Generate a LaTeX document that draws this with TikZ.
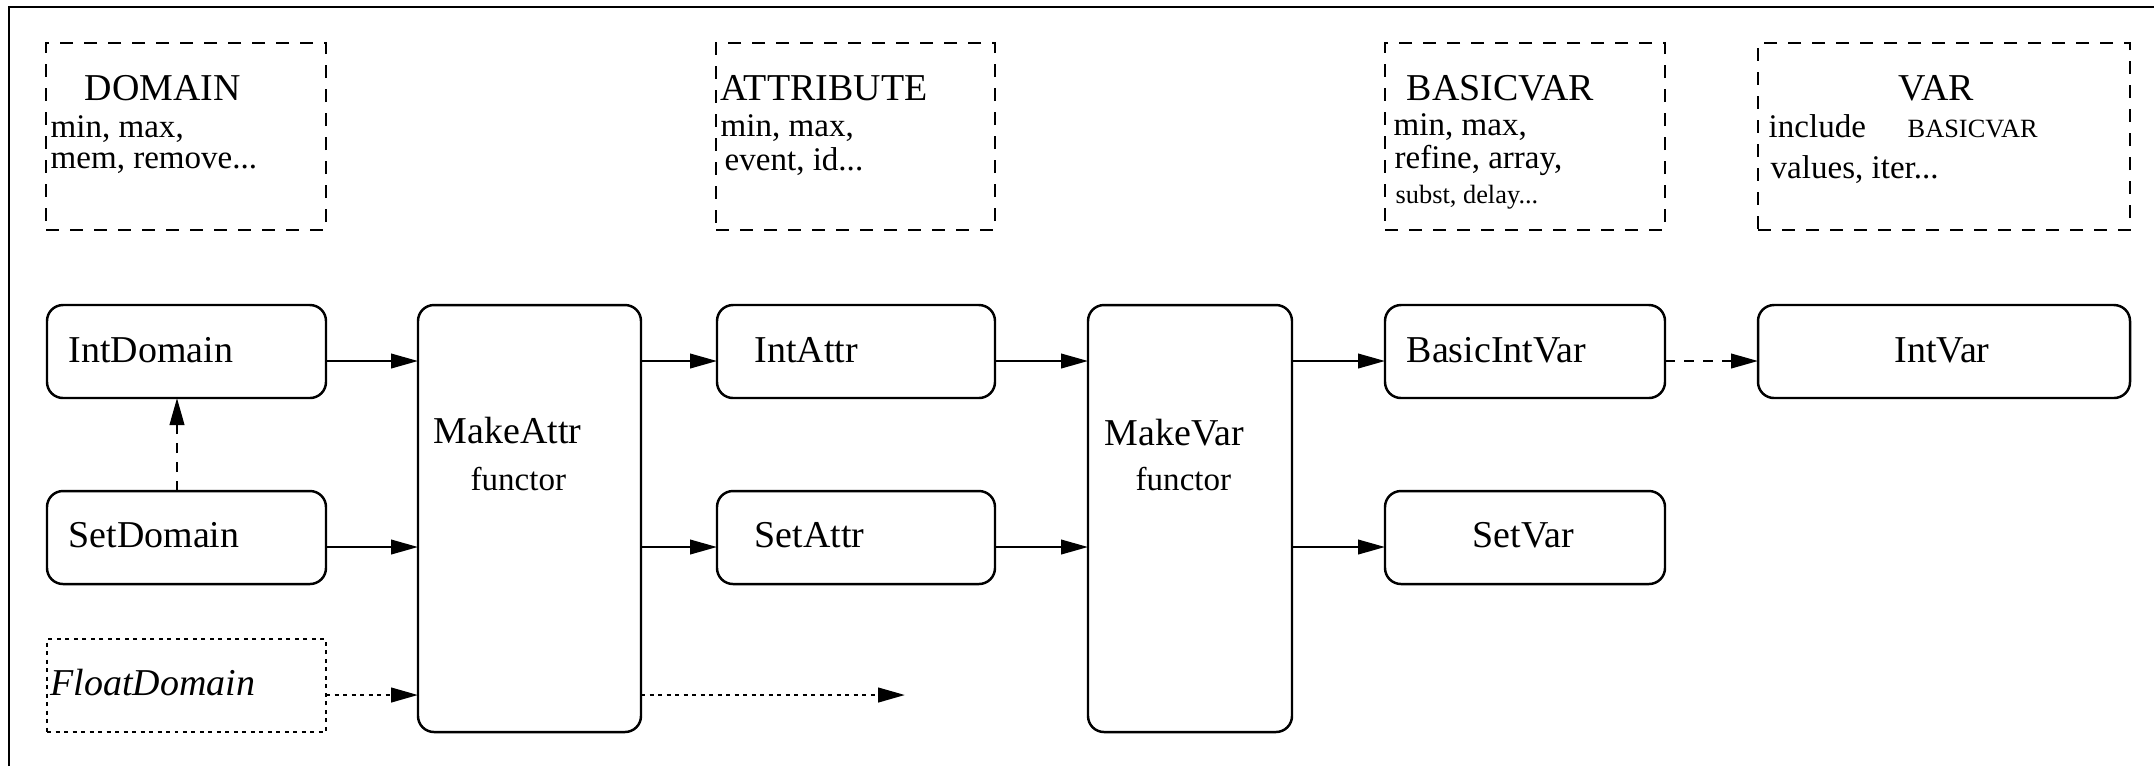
\documentclass[tikz,border=0pt]{standalone}
\usepackage{fontspec}
\setmainfont{Liberation Serif}
\usetikzlibrary{arrows.meta}
\begin{document}
\begin{tikzpicture}[x=0.1mm,y=-0.1mm,
  lw/.style={line width=0.7pt},
  rbx/.style={draw,lw,rounded corners=1.6mm,inner sep=0pt,outer sep=0pt},
  dbx/.style={draw,lw,dash pattern=on 1.3mm off 1.1mm,inner sep=0pt,outer sep=0pt},
  fbx/.style={draw,line width=0.8pt,dash pattern=on 0.4mm off 0.45mm,inner sep=0pt,outer sep=0pt},
  tbig/.style={anchor=base west,inner sep=0pt,font=\fontsize{10.8pt}{13pt}\selectfont},
  tmid/.style={anchor=base west,inner sep=0pt,font=\fontsize{9.4pt}{11pt}\selectfont},
  tsml/.style={anchor=base west,inner sep=0pt,font=\fontsize{7.5pt}{9pt}\selectfont},
  arr/.style={lw,-{Triangle[length=2.7mm,width=1.45mm]}},
  dsh/.style={dash pattern=on 1mm off 0.9mm},
  dtt/.style={line width=0.8pt,dash pattern=on 0.4mm off 0.45mm}]
\useasboundingbox (0,0) rectangle (2154,766);
\draw[line width=0.8pt] (9,766) -- (9,7) -- (2154,7);

% dashed info boxes
\node[dbx,minimum width=28mm,minimum height=18.7mm] (dom) at (186,136.5) {};
\node[dbx,minimum width=27.9mm,minimum height=18.7mm] (att) at (855.5,136.5) {};
\node[dbx,minimum width=28mm,minimum height=18.7mm] (bv) at (1525,136.5) {};
\node[dbx,minimum width=37.2mm,minimum height=18.7mm] (var) at (1944,136.5) {};

\node[tbig] (domT) at (84,100) {DOMAIN};
\node[tmid] (domA) at (50,137) {min, max,};
\node[tmid] (domB) at (50,168) {mem, remove...};

\node[tbig] (attT) at (720,100) {ATTRIBUTE};
\node[tmid] (attA) at (720,136) {min, max,};
\node[tmid] (attB) at (724,170) {event, id...};

\node[tbig] (bvT) at (1406,100) {BASICVAR};
\node[tmid] (bvA) at (1393,135) {min, max,};
\node[tmid] (bvB) at (1394,168) {refine, array,};
\node[tsml] (bvC) at (1395,203) {subst, delay...};

\node[tbig] (varT) at (1898,100) {VAR};
\node[tmid] (varA) at (1768,137) {include};
\node[tsml] (varB) at (1907,137) {BASICVAR};
\node[tmid] (varC) at (1770,178) {values, iter...};

% main boxes
\node[rbx,minimum width=27.9mm,minimum height=9.3mm] (IntDomain) at (186.5,351.5) {};
\node[rbx,minimum width=27.9mm,minimum height=9.3mm] (SetDomain) at (186.5,537.5) {};
\node[fbx,minimum width=27.9mm,minimum height=9.3mm] (FloatDomain) at (186.5,685.5) {};
\node[rbx,minimum width=22.3mm,minimum height=42.7mm] (MakeAttr) at (529.5,518.5) {};
\node[rbx,minimum width=27.8mm,minimum height=9.3mm] (IntAttr) at (856,351.5) {};
\node[rbx,minimum width=27.8mm,minimum height=9.3mm] (SetAttr) at (856,537.5) {};
\node[rbx,minimum width=20.4mm,minimum height=42.7mm] (MakeVar) at (1190,518.5) {};
\node[rbx,minimum width=28mm,minimum height=9.3mm] (BasicIntVar) at (1525,351.5) {};
\node[rbx,minimum width=37.2mm,minimum height=9.3mm] (IntVar) at (1944,351.5) {};
\node[rbx,minimum width=28mm,minimum height=9.3mm] (SetVar) at (1525,537.5) {};

\node[tbig] (IntDomainT) at (68,362) {IntDomain};
\node[tbig] (SetDomainT) at (68,547) {SetDomain};
\node[tbig] (FloatDomainT) at (50,695) {\itshape FloatDomain};
\node[tbig] (MakeAttrT) at (433,443) {MakeAttr};
\node[tmid] (MakeAttrF) at (470,490) {functor};
\node[tbig] (IntAttrT) at (754,362) {IntAttr};
\node[tbig] (SetAttrT) at (754,547) {SetAttr};
\node[tbig] (MakeVarT) at (1104,445) {MakeVar};
\node[tmid] (MakeVarF) at (1135,490) {functor};
\node[tbig] (BasicIntVarT) at (1406,362) {BasicIntVar};
\node[tbig] (IntVarT) at (1894,362) {IntVar};
\node[tbig] (SetVarT) at (1472,547) {SetVar};

% connectors
\coordinate (r1) at (0,361);
\coordinate (r2) at (0,547);
\coordinate (r3) at (0,695);
\coordinate (vx) at (177,0);
\coordinate (dotend) at (905,695);

\draw[arr] (IntDomain.east |- r1) -- (MakeAttr.west |- r1);
\draw[arr] (SetDomain.east |- r2) -- (MakeAttr.west |- r2);
\draw[arr,dtt] (FloatDomain.east |- r3) -- (MakeAttr.west |- r3);
\draw[arr,dsh] (SetDomain.north -| vx) -- (IntDomain.south -| vx);

\draw[arr] (MakeAttr.east |- r1) -- (IntAttr.west |- r1);
\draw[arr] (MakeAttr.east |- r2) -- (SetAttr.west |- r2);
\draw[arr,dtt] (MakeAttr.east |- r3) -- (dotend);

\draw[arr] (IntAttr.east |- r1) -- (MakeVar.west |- r1);
\draw[arr] (SetAttr.east |- r2) -- (MakeVar.west |- r2);

\draw[arr] (MakeVar.east |- r1) -- (BasicIntVar.west |- r1);
\draw[arr] (MakeVar.east |- r2) -- (SetVar.west |- r2);

\draw[arr,dsh] (BasicIntVar.east |- r1) -- (IntVar.west |- r1);
\end{tikzpicture}
\end{document}
